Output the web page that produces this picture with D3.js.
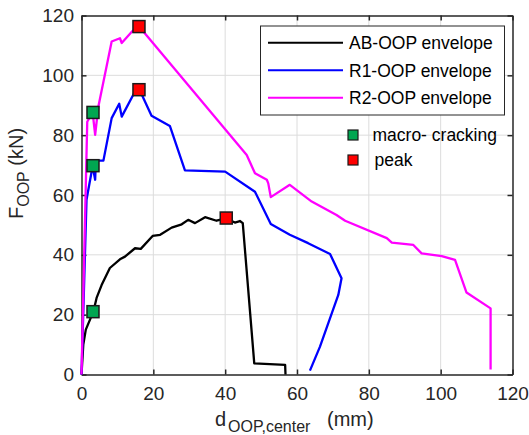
<!DOCTYPE html>
<meta charset="utf-8">
<script src="https://d3js.org/d3.v7.min.js"></script>
<style>
  body { margin: 0; background: #fff; }
  text { font-family: "Liberation Sans", Arial, sans-serif; }
</style>
<svg id="chart" width="529" height="435"></svg>

<script>

// envelope curves (d in mm, F in kN)
var abX = [0, 0.5, 1.2, 3.3, 4.2, 5.6, 7.9, 10.7, 12.1, 14.9, 16.5, 19.8, 21.9, 25.1, 27.9, 29.7, 31.6, 34.4, 37.6, 40.2, 42.7, 44.1, 44.9, 48.1, 56.7, 56.8];
var abY = [0, 10.0, 15.0, 21.0, 25.6, 29.9, 35.6, 38.5, 39.4, 42.2, 42.0, 46.3, 46.7, 49.1, 50.2, 51.7, 50.6, 52.6, 51.4, 52.2, 50.8, 51.3, 50.6, 3.7, 3.2, 0];

var r1X = [0, 1.4, 3.1, 3.8, 4.0, 6.1, 8.4, 10.5, 11.2, 14.9, 16.0, 16.8, 19.5, 24.6, 28.8, 40.0, 48.3, 52.7, 58.0, 63.1, 69.2, 72.4, 71.5, 69.7, 66.4, 63.6];
var r1Y = [0, 58.4, 69.7, 65.1, 71.5, 71.5, 85.7, 90.5, 86.2, 94.6, 95.2, 93.5, 86.5, 83.1, 68.2, 67.8, 61.1, 50.3, 46.7, 43.9, 40.3, 32.2, 26.6, 20.5, 9.3, 1.3];

var r2X = [0, 1.6, 3.1, 3.8, 4.7, 8.4, 10.7, 11.2, 14.0, 15.8, 16.8, 46.0, 48.3, 51.6, 52.0, 52.7, 58.0, 64.1, 71.0, 73.4, 85.0, 86.4, 92.4, 94.7, 100.3, 104.0, 107.2, 113.9, 113.9];
var r2Y = [0, 84.5, 87.6, 80.1, 89.6, 111.3, 112.4, 110.8, 114.6, 116.3, 115.2, 73.4, 67.3, 65.1, 63.9, 59.3, 63.4, 57.8, 53.3, 51.4, 45.6, 44.1, 43.3, 40.5, 39.6, 38.3, 27.4, 22.1, 1.7];

// marked points
var crackX = [3.2, 3.2, 3.2];
var crackY = [21.0, 69.8, 87.6];
var peakX = [40.3, 16.0, 16.0];
var peakY = [52.3, 95.2, 116.3];

var xTicks = [0, 20, 40, 60, 80, 100, 120];
var yTicks = [0, 20, 40, 60, 80, 100, 120];

var seriesNames = ["AB-OOP envelope", "R1-OOP envelope", "R2-OOP envelope"];
var seriesColors = ["#000000", "#0000ff", "#ff00ff"];
var markerNames = ["macro- cracking", "peak"];
var markerColors = ["#00a651", "#ff0000"];

var svg = d3.select("#chart");
var axisCol = "#262626";

var x = d3.scaleLinear().domain([0, 120]).range([81.5, 512.5]);
var y = d3.scaleLinear().domain([0, 120]).range([374.5, 15.5]);

// grid
svg.append("g").selectAll("line")
  .data(xTicks.slice(1, -1))
  .enter().append("line")
    .attr("x1", function(d){ return x(d) }).attr("x2", function(d){ return x(d) })
    .attr("y1", y(0)).attr("y2", y(120))
    .attr("stroke", "#dcdcdc").attr("stroke-width", 1);
svg.append("g").selectAll("line")
  .data(yTicks.slice(1, -1))
  .enter().append("line")
    .attr("y1", function(d){ return y(d) }).attr("y2", function(d){ return y(d) })
    .attr("x1", x(0)).attr("x2", x(120))
    .attr("stroke", "#dcdcdc").attr("stroke-width", 1);

// axes, ticks pointing inward
function styleAxis(g) {
  g.selectAll("path, line").attr("stroke", axisCol).attr("stroke-width", 1.5);
  g.selectAll("text").attr("fill", axisCol).attr("font-size", 19).attr("font-family", "Liberation Sans, Arial, sans-serif");
}
svg.append("g").attr("transform", "translate(0," + y(0) + ")")
  .call(d3.axisBottom(x).tickValues(xTicks).tickSizeInner(-5).tickSizeOuter(0).tickPadding(12))
  .call(styleAxis);
svg.append("g").attr("transform", "translate(" + x(0) + ",0)")
  .call(d3.axisLeft(y).tickValues(yTicks).tickSizeInner(-5).tickSizeOuter(0).tickPadding(7.5))
  .call(styleAxis);
svg.append("g").attr("transform", "translate(0," + y(120) + ")")
  .call(d3.axisTop(x).tickValues(xTicks).tickSizeInner(-5).tickSizeOuter(0).tickFormat(""))
  .call(styleAxis);
svg.append("g").attr("transform", "translate(" + x(120) + ",0)")
  .call(d3.axisRight(y).tickValues(yTicks).tickSizeInner(-5).tickSizeOuter(0).tickFormat(""))
  .call(styleAxis);

// curves
var line = d3.line().x(function(d){ return x(d[0]) }).y(function(d){ return y(d[1]) });
var series = [d3.zip(abX, abY), d3.zip(r1X, r1Y), d3.zip(r2X, r2Y)];
svg.append("g").selectAll("path")
  .data(series)
  .enter().append("path")
    .attr("d", line)
    .attr("fill", "none")
    .attr("stroke", function(d, i){ return seriesColors[i] })
    .attr("stroke-width", 2.3)
    .attr("stroke-linejoin", "round");

// square markers
function squares(xs, ys, col) {
  svg.append("g").selectAll("rect")
    .data(d3.zip(xs, ys))
    .enter().append("rect")
      .attr("x", function(d){ return x(d[0]) - 6 })
      .attr("y", function(d){ return y(d[1]) - 6 })
      .attr("width", 12).attr("height", 12)
      .attr("fill", col)
      .attr("stroke", "#1a1a1a").attr("stroke-width", 1.5);
}
squares(crackX, crackY, markerColors[0]);
squares(peakX, peakY, markerColors[1]);

// legend box
var leg = svg.append("g");
leg.append("rect")
  .attr("x", 260.5).attr("y", 26).attr("width", 244).attr("height", 89)
  .attr("fill", "#fff").attr("stroke", axisCol).attr("stroke-width", 1);
seriesNames.forEach(function(name, i) {
  var ly = 42.7 + i * 27.5;
  leg.append("line").attr("x1", 268).attr("x2", 343).attr("y1", ly).attr("y2", ly)
    .attr("stroke", seriesColors[i]).attr("stroke-width", 2);
  leg.append("text").attr("x", 349).attr("y", ly + 6.3)
    .attr("font-size", 17.5).attr("fill", "#000").text(name);
});

// marker legend (no box)
markerNames.forEach(function(name, i) {
  var ly = 135 + i * 25;
  svg.append("rect").attr("x", 348).attr("y", ly - 5).attr("width", 10).attr("height", 10)
    .attr("fill", markerColors[i]).attr("stroke", "#1a1a1a").attr("stroke-width", 1.2);
  svg.append("text").attr("x", i === 0 ? 372.5 : 374.5).attr("y", ly + 5.5)
    .attr("font-size", 17.5).attr("fill", "#000").text(name);
});

// axis titles
var xl = svg.append("text").attr("y", 426).attr("font-size", 20).attr("fill", axisCol);
xl.append("tspan").attr("x", 215).text("d");
xl.append("tspan").attr("x", 228).attr("dy", 6).attr("font-size", 16).text("OOP,center");
xl.append("tspan").attr("x", 327).attr("dy", -6).text("(mm)");

var yl = svg.append("text").attr("transform", "translate(23,219) rotate(-90)")
  .attr("font-size", 20).attr("fill", axisCol);
yl.append("tspan").text("F");
yl.append("tspan").attr("dy", 6).attr("font-size", 16).text("OOP");
yl.append("tspan").attr("dy", -6).text(" (kN)");

</script>
